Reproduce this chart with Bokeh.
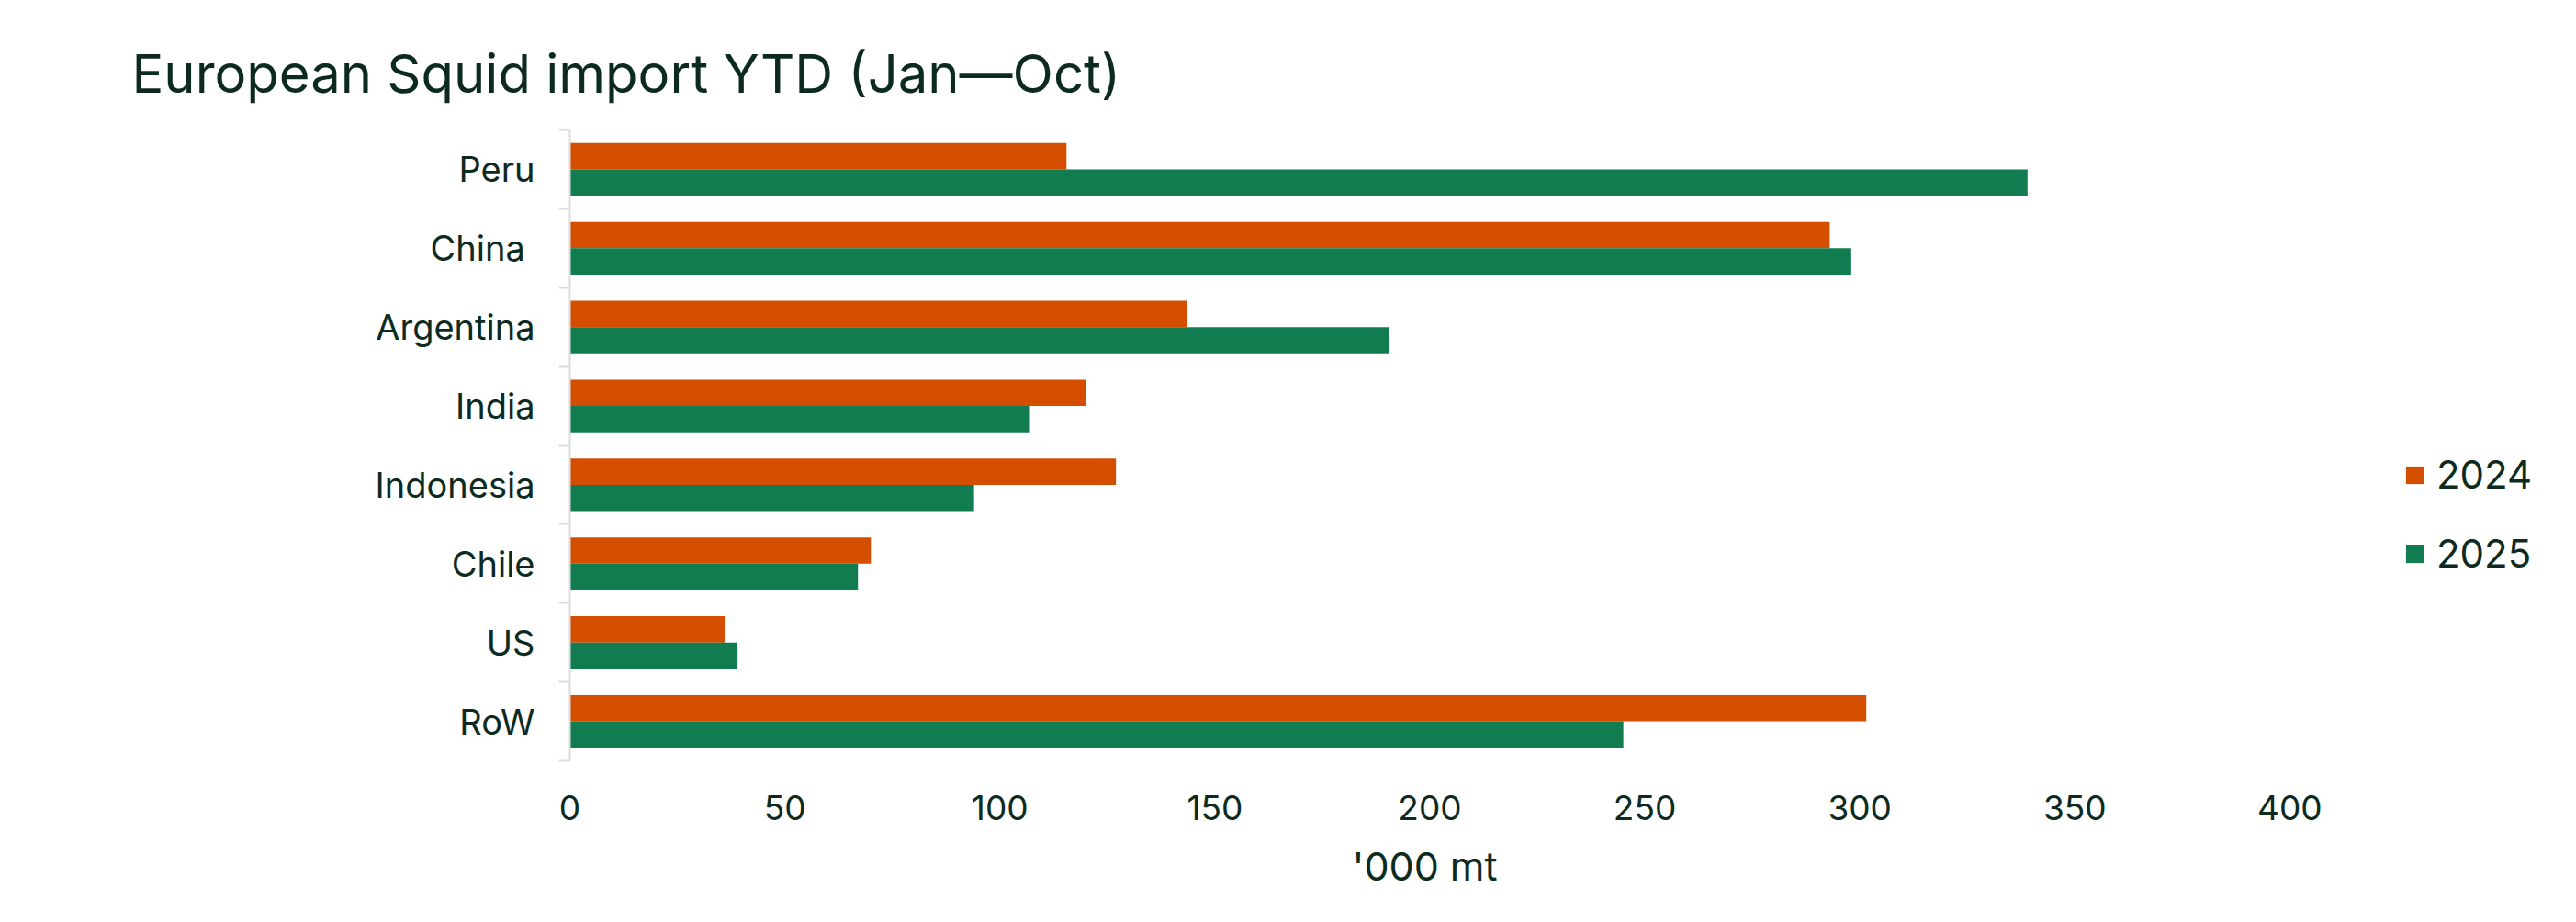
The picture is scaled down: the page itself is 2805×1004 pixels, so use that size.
from bokeh.plotting import figure
from bokeh.models import Range1d, FixedTicker, ColumnDataSource, Legend, LegendItem, Title
from bokeh.transform import dodge
from bokeh.embed import file_html
from bokeh.resources import INLINE

categories = ["Peru", "China ", "Argentina", "India", "Indonesia", "Chile", "US", "RoW"]
values_2024 = [115.5, 293, 143.5, 120, 127, 70, 36, 301.5]
values_2025 = [339, 298, 190.5, 107, 94, 67, 39, 245]
series_names = ["2024", "2025"]
x_ticks = [0, 50, 100, 150, 200, 250, 300, 350, 400]
x_label = "'000 mt"

FONT = "Inter"
TEXT = "#0c2a1e"
ORANGE = "#D54E00"
GREEN = "#107C4F"

n = len(categories)
pos = [n - 1 - i for i in range(n)]
src = ColumnDataSource(dict(pos=pos, cat=categories, v2024=values_2024, v2025=values_2025))

# frame extends past 400 to leave room for the legend on the right
p = figure(width=2789, height=999, output_backend="svg", toolbar_location=None,
           x_range=Range1d(0, 461.1), y_range=Range1d(-0.5, n - 0.5),
           min_border_left=620, min_border_right=10, min_border_top=141, min_border_bottom=171)

r1 = p.hbar(y=dodge("pos", 1 / 6, range=p.y_range), left=0, right="v2024", height=1 / 3,
            source=src, fill_color=ORANGE, line_color=None)
r2 = p.hbar(y=dodge("pos", -1 / 6, range=p.y_range), left=0, right="v2025", height=1 / 3,
            source=src, fill_color=GREEN, line_color=None)

p.title.text = "European Squid import YTD (Jan\u2014Oct)"
p.title.align = "left"
p.title.offset = -477
p.title.standoff = 54
p.title.text_font = FONT
p.title.text_font_size = "58px"
p.title.text_font_style = "normal"
p.title.text_color = TEXT

p.xgrid.visible = False
p.ygrid.visible = False
p.outline_line_color = None
p.background_fill_color = "white"
p.border_fill_color = "white"

xa = p.xaxis[0]
xa.ticker = FixedTicker(ticks=x_ticks)
xa.axis_line_color = None
xa.major_tick_line_color = None
xa.minor_tick_line_color = None
xa.major_label_text_font = FONT
xa.major_label_text_font_size = "37px"
xa.major_label_text_color = TEXT
xa.major_label_standoff = 31

# small blank spacer between the tick labels and the x-axis title
spacer = Title(text=" ", standoff=0, text_font=FONT, text_font_size="9px")
p.add_layout(spacer, "below")

# x-axis title, centred under the 0-400 span
xlab = Title(text=x_label, align="left", offset=852, standoff=12,
             text_font=FONT, text_font_size="43px", text_font_style="normal", text_color=TEXT)
p.add_layout(xlab, "below")

ya = p.yaxis[0]
ya.ticker = FixedTicker(ticks=pos, minor_ticks=[i - 0.5 for i in range(n + 1)])
ya.major_label_overrides = {pos[i]: categories[i] for i in range(n)}
ya.axis_line_color = "#dcdcdc"
ya.axis_line_width = 2
ya.major_tick_line_color = None
ya.major_tick_out = 0
ya.major_tick_in = 0
ya.minor_tick_line_color = "#dcdcdc"
ya.minor_tick_line_width = 2
ya.minor_tick_out = 12
ya.minor_tick_in = 0
ya.major_label_text_font = FONT
ya.major_label_text_font_size = "38px"
ya.major_label_text_color = TEXT
ya.major_label_standoff = 26

legend = Legend(items=[LegendItem(label=series_names[0], renderers=[r1]),
                       LegendItem(label=series_names[1], renderers=[r2])],
                location=(1997, 200), orientation="vertical")
legend.padding = 0
legend.margin = 0
legend.border_line_color = None
legend.background_fill_alpha = 0
legend.glyph_width = 24
legend.glyph_height = 24
legend.label_standoff = 12
legend.spacing = 35
legend.label_text_font = FONT
legend.label_text_font_size = "42px"
legend.label_text_color = TEXT
p.add_layout(legend)

open("out.html", "w").write(file_html(p, INLINE))
